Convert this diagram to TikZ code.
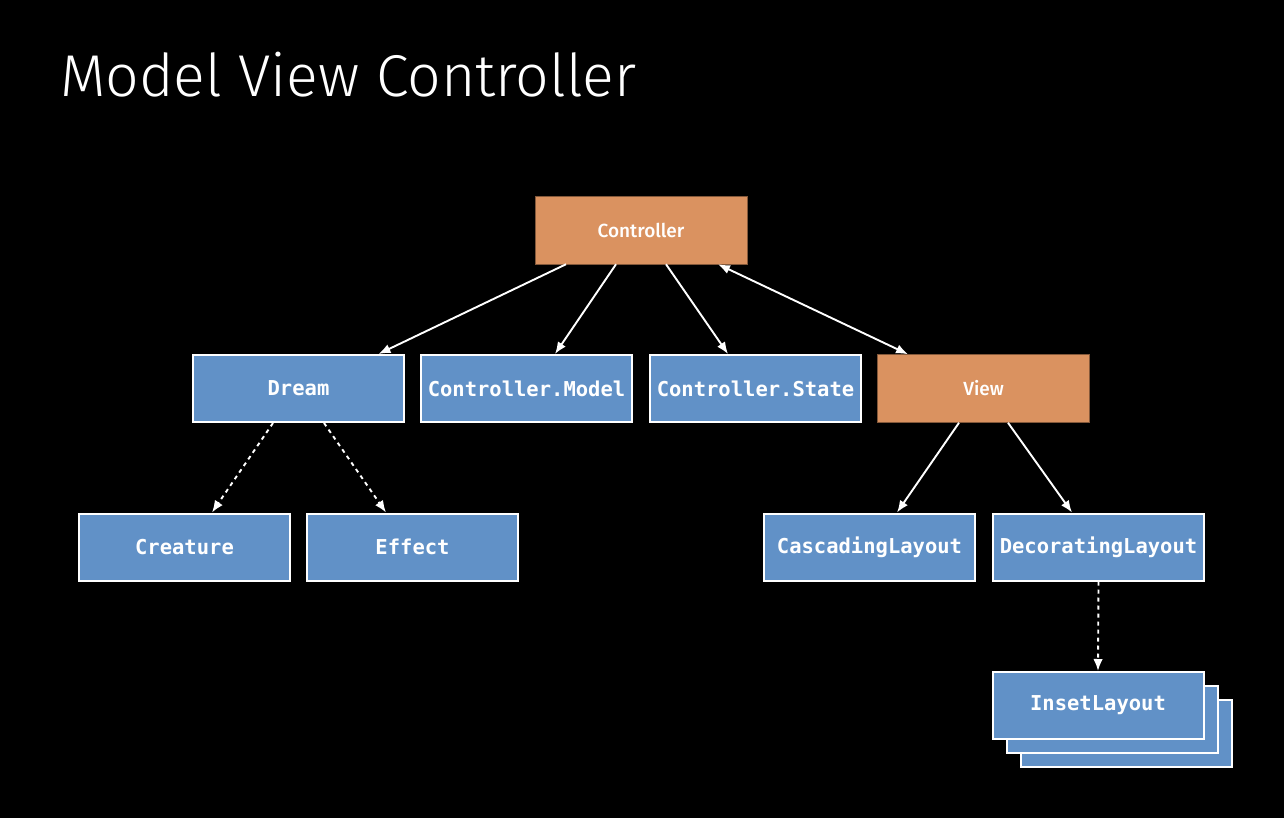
\documentclass[tikz,border=0pt]{standalone}
\usepackage{fontspec}
\setmonofont{DejaVu Sans Mono}
\newfontfamily\titlefont{Fira Sans Light}
\newfontfamily\boxfont{Fira Sans Medium}
\usetikzlibrary{arrows.meta}
\tikzset{>={Latex[length=12pt,width=9.5pt]}}
\definecolor{Peach}{RGB}{218,146,96}
\definecolor{Steel}{RGB}{97,145,199}
\tikzset{
  ctrlbox/.style={fill=Peach,draw=black!40!Peach,line width=0.5pt,minimum width=212pt,minimum height=68pt,inner sep=0pt,text=white,font=\boxfont\fontsize{19}{22}\selectfont},
  classbox/.style={fill=Steel,draw=white,line width=2pt,minimum width=211pt,minimum height=67pt,inner sep=0pt,text=white,font=\ttfamily\bfseries\fontsize{20.5}{24}\selectfont},
  link/.style={->,white,line width=1.9pt},
  dotlink/.style={link,dash pattern=on 4pt off 4pt},
}

\begin{document}
\begin{tikzpicture}[x=1pt,y=-1pt]
          \useasboundingbox (0,0) rectangle (1284,818);
          \fill[black] (0,0) rectangle (1284,818);
          \node[anchor=base west,inner sep=0pt,text=white,font=\titlefont\fontsize{59}{66}\selectfont] (title) at (60,97) {Model View Controller};
          % top row
          \node[ctrlbox] (controller) at (641,230) {Controller};
          \node[classbox] (dream) at (298.5,388.5) {Dream};
          \node[classbox] (model) at (526.5,388.5) {Controller.Model};
          \node[classbox] (state) at (755.5,388.5) {Controller.State};
          \node[ctrlbox] (view) at (983.5,388.5) {View};
          % lower rows
          \node[classbox] (creature) at (184.5,547) {Creature};
          \node[classbox] (effect) at (412.5,547) {Effect};
          \node[classbox] (cascading) at (869.5,547) {CascadingLayout};
          \node[classbox] (decorating) at (1098.5,547) {DecoratingLayout};
          \foreach \k in {2,1}
            \node[classbox] (inset\k) at (1098+14*\k,705.5+14*\k) {};
          \node[classbox] (inset) at (1098,705.5) {InsetLayout};
          % connectors
          \draw[link] ([xshift=-75pt]controller.south) -- ([xshift=80pt]dream.north);
          \draw[link] ([xshift=-25pt]controller.south) -- ([xshift=28.5pt]model.north);
          \draw[link] ([xshift=25pt]controller.south) -- ([xshift=-27.5pt]state.north);
          \draw[link,<->] ([xshift=77pt]controller.south) -- ([xshift=-75.5pt]view.north);
          \draw[dotlink] ([xshift=-25.5pt]dream.south) -- ([xshift=27.5pt]creature.north);
          \draw[dotlink] ([xshift=25.5pt]dream.south) -- ([xshift=-26.5pt]effect.north);
          \draw[link] ([xshift=-24.5pt]view.south) -- ([xshift=27.5pt]cascading.north);
          \draw[link] ([xshift=24.5pt]view.south) -- ([xshift=-26.5pt]decorating.north);
          \draw[dotlink] (decorating.south) -- (inset.north);
\end{tikzpicture}
\end{document}
